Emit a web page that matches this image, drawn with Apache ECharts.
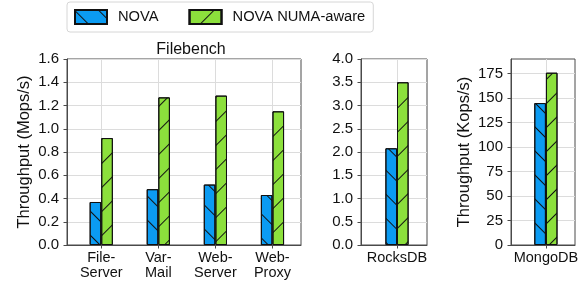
<!DOCTYPE html>
<html>
<head>
<meta charset="utf-8">
<script src="https://cdn.jsdelivr.net/npm/echarts@6/dist/echarts.min.js"></script>
<style>html,body{margin:0;padding:0;background:#fff}#c{width:584px;height:281px}</style>
</head>
<body>
<div id="c"></div>
<script>
// ---- data ----
const seriesNames = ['NOVA', 'NOVA NUMA-aware'];
const filebenchCategories = ['File-\nServer', 'Var-\nMail', 'Web-\nServer', 'Web-\nProxy'];
const filebenchNova = [0.37, 0.48, 0.52, 0.43];
const filebenchAware = [0.92, 1.27, 1.285, 1.15];
const rocksCategories = ['RocksDB'];
const rocksNova = [2.08];
const rocksAware = [3.5];
const mongoCategories = ['MongoDB'];
const mongoNova = [145];
const mongoAware = [176];
const filebenchYTicks = [0, 0.2, 0.4, 0.6, 0.8, 1.0, 1.2, 1.4, 1.6];
const rocksYTicks = [0, 0.5, 1.0, 1.5, 2.0, 2.5, 3.0, 3.5, 4.0];
const mongoYTicks = [0, 25, 50, 75, 100, 125, 150, 175];

// ---- styles ----
const FONT = '"Liberation Sans", Arial, sans-serif';
const BLUE = '#0b9bf2';
const GREEN = '#8ce03c';
const FRAME = '#4a4a4a';
const GRIDC = '#dcdcdc';
const decalBack = { symbol: 'rect', color: '#111', dashArrayX: [1, 0], dashArrayY: [0.8, 15.5], rotation: Math.PI / 4, symbolSize: 1 };
const decalFwd = { symbol: 'rect', color: '#111', dashArrayX: [1, 0], dashArrayY: [0.8, 15.5], rotation: -Math.PI / 4, symbolSize: 1 };

const grids = [
  { left: 67, width: 234, top: 59, height: 186 },
  { left: 361, width: 66, top: 59, height: 186 },
  { left: 511, width: 64, top: 59, height: 186 }
].map(g => Object.assign({ show: true, borderColor: FRAME, borderWidth: 1, backgroundColor: 'transparent' }, g));

function idx(arr) { return arr.map((_, i) => i); }

function xAxis(gi, cats, max) {
  const vals = idx(cats);
  return {
    type: 'value', gridIndex: gi, min: -0.6, max: max,
    axisLine: { show: true, onZero: false, lineStyle: { color: FRAME, width: 1 } },
    axisTick: { show: true, customValues: vals, length: 3.5, lineStyle: { color: FRAME } },
    axisLabel: { customValues: vals, formatter: v => cats[Math.round(v)] || '', color: '#111', fontFamily: FONT, fontSize: 14.5, lineHeight: 14.5, margin: 6 },
    splitLine: { show: true, lineStyle: { color: GRIDC, width: 1 } }
  };
}
function yAxis(gi, ticks, max, name, nameGap) {
  return {
    type: 'value', gridIndex: gi, min: 0, max: max,
    name: name, nameLocation: 'middle', nameGap: nameGap,
    nameTextStyle: { color: '#111', fontFamily: FONT, fontSize: 16.5 },
    axisLine: { show: true, onZero: false, lineStyle: { color: FRAME, width: 1 } },
    axisTick: { show: true, customValues: ticks, length: 3.5, lineStyle: { color: FRAME } },
    axisLabel: { customValues: ticks, formatter: v => (max < 10 ? v.toFixed(1) : String(v)), color: '#111', fontFamily: FONT, fontSize: 15, margin: 8 },
    splitLine: { show: true, lineStyle: { color: GRIDC, width: 1 } }
  };
}
function bars(gi, name, vals, color, decal) {
  return {
    type: 'bar', name: name, xAxisIndex: gi, yAxisIndex: gi,
    data: vals.map((v, i) => [i, v]),
    barWidth: 11.6, barGap: '0%',
    itemStyle: { color: color, borderColor: '#111', borderWidth: 1, decal: decal },
    emphasis: { disabled: true }
  };
}

const chart = echarts.init(document.getElementById('c'), null, { renderer: 'canvas' });
chart.setOption({
  animation: false,
  aria: { enabled: false },
  title: { text: 'Filebench', left: 186, top: 37, textAlign: 'center',
    textStyle: { color: '#111', fontFamily: FONT, fontSize: 16, fontWeight: 'normal' } },
  legend: {
    data: seriesNames, left: 67, top: 2, icon: 'rect',
    padding: [7, 8, 7, 7], itemGap: 30, itemWidth: 32, itemHeight: 14,
    borderColor: '#d6d6d6', borderWidth: 1, borderRadius: 3,
    textStyle: { color: '#111', fontFamily: FONT, fontSize: 14.7, padding: [0, 0, 0, 6] }
  },
  grid: grids,
  xAxis: [xAxis(0, filebenchCategories, 3.5), xAxis(1, rocksCategories, 0.5), xAxis(2, mongoCategories, 0.5)],
  yAxis: [yAxis(0, filebenchYTicks, 1.6, 'Throughput (Mops/s)', 34), yAxis(1, rocksYTicks, 4.0, '', 0), yAxis(2, mongoYTicks, 190, 'Throughput (Kops/s)', 38)],
  series: [
    bars(0, seriesNames[0], filebenchNova, BLUE, decalBack),
    bars(0, seriesNames[1], filebenchAware, GREEN, decalFwd),
    bars(1, seriesNames[0], rocksNova, BLUE, decalBack),
    bars(1, seriesNames[1], rocksAware, GREEN, decalFwd),
    bars(2, seriesNames[0], mongoNova, BLUE, decalBack),
    bars(2, seriesNames[1], mongoAware, GREEN, decalFwd)
  ]
});
</script>
</body>
</html>
